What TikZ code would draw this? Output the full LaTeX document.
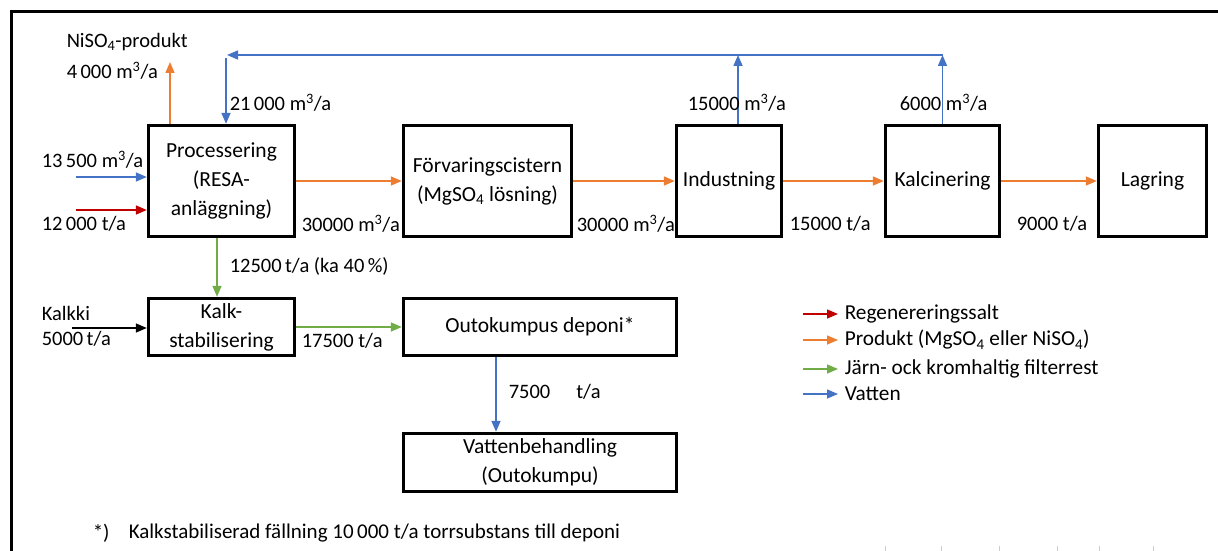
\documentclass[tikz,border=0pt]{standalone}
\usepackage{fontspec}
\setmainfont{Carlito}
\usetikzlibrary{arrows.meta}

\definecolor{vatten}{RGB}{68,114,196}
\definecolor{produkt}{RGB}{237,125,49}
\definecolor{filter}{RGB}{112,173,71}
\definecolor{salt}{RGB}{192,0,0}

\newcommand{\mtre}{m\textsuperscript{3}/a}
\newcommand{\sfyra}{SO\textsubscript{4}}

\begin{document}
\begin{tikzpicture}[x=1pt,y=-1pt,line width=1.5pt,>={Triangle[length=11pt,width=9pt]},
  box/.style={draw,line width=3.4pt,align=center,inner sep=0pt,font=\fontsize{21.5}{29}\selectfont},
  lbl/.style={inner sep=0pt,anchor=west,font=\fontsize{20.5}{26}\selectfont},
  leglbl/.style={lbl,font=\fontsize{21.3}{26}\selectfont}]
  \useasboundingbox (0,0) rectangle (1218,551);
  \draw[line width=2.4pt] (1218,11.5) -- (11.5,11.5) -- (11.5,551);
  \foreach \x in {885,941,999,1057,1099,1153}
    \draw[black!20,line width=1pt] (\x,546) -- (\x,551);

  % process boxes
  \node[box,minimum width=146pt,minimum height=111pt] (proc) at (221.5,181) {Processering\\(RESA-\\anläggning)};
  \node[box,minimum width=168pt,minimum height=111pt] (forv) at (487.5,181) {Förvaringscistern\\(Mg\sfyra{} lösning)};
  \node[box,minimum width=105pt,minimum height=111pt] (ind) at (729,181) {Industning};
  \node[box,minimum width=114pt,minimum height=111pt] (kalc) at (942.5,181) {Kalcinering};
  \node[box,minimum width=108pt,minimum height=111pt] (lag) at (1152.5,181) {Lagring};
  \node[box,minimum width=146pt,minimum height=57pt] (kalk) at (221.5,327) {Kalk-\\stabilisering};
  \node[box,minimum width=273pt,minimum height=57pt] (depo) at (540,327) {Outokumpus deponi*};
  \node[box,minimum width=273pt,minimum height=58pt] (vatt) at (540,462.5) {Vattenbehandling\\(Outokumpu)};

  % main product line
  \draw[->,produkt] (proc) -- (forv);
  \draw[->,produkt] (forv) -- (ind);
  \draw[->,produkt] (ind) -- (kalc);
  \draw[->,produkt] (kalc) -- (lag);

  % water return
  \coordinate (retur) at (227,55);
  \coordinate (returNed) at (226,58);
  \draw[->,vatten] (kalc.north) -- (kalc.north |- retur);
  \draw[->,vatten] ([xshift=9pt]ind.north) -- ([xshift=9pt]ind.north |- retur);
  \draw[->,vatten] (kalc.north |- retur) -- (retur);
  \draw[->,vatten] (returNed) -- (returNed |- proc.north);

  % inputs and outputs of the processing
  \coordinate (nisoTopp) at (170,62);
  \coordinate (inVatten) at (76,177);
  \coordinate (inSalt) at (76,210);
  \coordinate (inKalk) at (72,328);
  \draw[->,produkt] (nisoTopp |- proc.north) -- (nisoTopp);
  \draw[->,vatten] (inVatten) -- (inVatten -| proc.west);
  \draw[->,salt] (inSalt) -- (inSalt -| proc.west);
  \draw[->,filter] ([xshift=-4.5pt]proc.south) -- ([xshift=-4.5pt]proc.south |- kalk.north);
  \draw[->] (inKalk) -- (inKalk -| kalk.west);
  \draw[->,filter] (kalk) -- (depo);
  \draw[->,vatten] ([xshift=-44pt]depo.south) -- ([xshift=-44pt]depo.south |- vatt.north);

  % flow labels
  \node[lbl] (lNiso) at (66,42) {Ni\sfyra-produkt};
  \node[lbl] (lNisoM) at (66,71) {4\,000 \mtre};
  \node[lbl] (lRetur) at (229,103) {21\,000 \mtre};
  \node[lbl] (lVatten) at (41,160) {13\,500 \mtre};
  \node[lbl] (lSalt) at (41,224) {12\,000 t/a};
  \node[lbl] (lProc) at (301,224) {30000 \mtre};
  \node[lbl] (lFilter) at (229,266) {12500\,t/a (ka 40\,\%)};
  \node[lbl] (lForv) at (576,224) {30000 \mtre};
  \node[lbl] (lInd) at (687,103) {15000 \mtre};
  \node[lbl] (lIndT) at (789,224) {15000 t/a};
  \node[lbl] (lKalc) at (899,103) {6000 \mtre};
  \node[lbl] (lKalcT) at (1016,224) {9000 t/a};
  \node[lbl] (lKalkki) at (41,313) {Kalkki};
  \node[lbl] (lKalkkiT) at (41,339) {5000\,t/a};
  \node[lbl] (lKalk) at (301,341) {17500 t/a};
  \node[lbl] (lDepo) at (508,392) {7500\hspace{26pt}t/a};

  % legend
  \foreach \yy/\farg/\txt [count=\i] in {314/salt/Regenereringssalt,
      340/produkt/Produkt (Mg\sfyra{} eller Ni\sfyra),
      369/filter/Järn- ock kromhaltig filterrest,
      394/vatten/Vatten} {
    \node[leglbl] (leg\i) at (844,\yy) {\txt};
    \coordinate (legpil\i) at (803,\yy);
    \draw[->,\farg] (legpil\i) -- ([xshift=-6pt]legpil\i -| leg\i.west);
  }

  % footnote
  \node[leglbl,font=\fontsize{21}{26}\selectfont] (fotStj) at (92,533) {*)};
  \node[leglbl,font=\fontsize{21}{26}\selectfont] (fot) at (128,533) {Kalkstabiliserad fällning 10\,000 t/a torrsubstans till deponi};
\end{tikzpicture}
\end{document}
